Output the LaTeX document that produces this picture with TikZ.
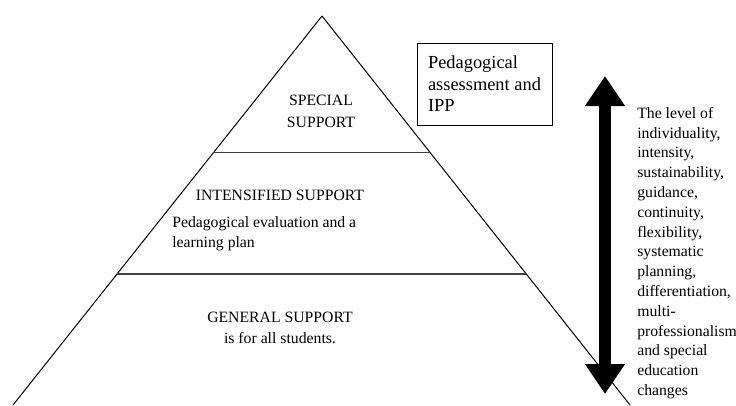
\documentclass[tikz,border=0pt]{standalone}
\usepackage{fontspec}
\setmainfont{Liberation Serif}
\usetikzlibrary{arrows.meta,calc}

\begin{document}
\begin{tikzpicture}
                [
                    x=0.75pt,
                    y=-0.75pt,
                    pyramid side/.style={color=black, line width=0.75pt},
                    level line/.style={color=black!75, line width=1.1pt},
                    level text/.style={font=\fontsize{11.8}{16}\selectfont,
                        align=center, inner sep=0pt},
                    plan text/.style={level text, align=left,
                        font=\fontsize{11.8}{15}\selectfont},
                    note box/.style={draw, line width=0.75pt, align=left,
                        font=\fontsize{13.8}{16.1}\selectfont,
                        minimum width=101.25pt, minimum height=61.5pt},
                    range arrow/.style={line width=9pt,
                        {Triangle[width=28.5pt,length=22.5pt]}-{Triangle[width=28.5pt,length=22.5pt]}},
                    range text/.style={align=left, inner sep=0pt,
                        font=\fontsize{11.8}{14.85}\selectfont}
                ]
                \useasboundingbox (0,0) rectangle (736,405);

                \coordinate (apex)       at (322,16);
                \coordinate (base left)  at (13,405);
                \coordinate (base right) at (630,405);

                \coordinate (special left)      at ($(apex)!0.3514!(base left)$);
                \coordinate (special right)     at ($(apex)!0.3514!(base right)$);
                \coordinate (intensified left)  at ($(apex)!0.6632!(base left)$);
                \coordinate (intensified right) at ($(apex)!0.6632!(base right)$);

                \path
                (apex) edge [pyramid side] (base left)
                (apex) edge [pyramid side] (base right)
                (special left) edge [level line] (special right)
                (intensified left) edge [level line] (intensified right)
                ;

                \node (special)
                    [level text, anchor=north]
                    at (321,95)
                    {SPECIAL\\SUPPORT};

                \node (intensified)
                    [level text]
                    at (280,195)
                    {INTENSIFIED SUPPORT};

                \node (learning plan)
                    [plan text, anchor=north west]
                    at (172,216)
                    {Pedagogical evaluation and a\\learning plan};

                \node (general)
                    [level text, anchor=north]
                    at (280,311.5)
                    {GENERAL SUPPORT\\is for all students.};

                \node (assessment)
                    [note box]
                    at (484.5,84)
                    {Pedagogical\\assessment and\\IPP};

                \coordinate (arrow top)    at (605,76);
                \coordinate (arrow bottom) at (605,394);

                \draw [range arrow] (arrow bottom) -- (arrow top);

                \node (level)
                    [range text, anchor=north west]
                    at (637,107)
                    {The level of\\individuality,\\intensity,\\sustainability,\\guidance,\\continuity,\\flexibility,\\systematic\\planning,\\differentiation,\\multi-\\professionalism\\and special\\education\\changes};

\end{tikzpicture}
\end{document}
